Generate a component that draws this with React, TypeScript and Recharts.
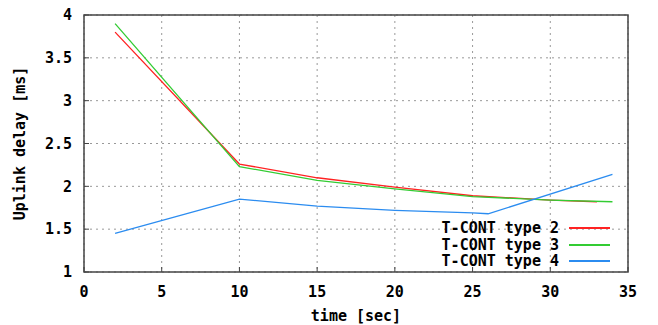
import {
  CartesianGrid,
  Line,
  LineChart,
  ReferenceArea,
  XAxis,
  YAxis,
} from "recharts";

// values
const timeType2 = [2, 10, 15, 20, 25, 30, 33];
const delayType2 = [3.8, 2.26, 2.1, 1.99, 1.89, 1.84, 1.82];

const timeType3 = [2, 10, 15, 20, 25, 30, 34];
const delayType3 = [3.9, 2.23, 2.07, 1.97, 1.88, 1.84, 1.82];

const timeType4 = [2, 10, 15, 20, 25, 26, 34];
const delayType4 = [1.45, 1.85, 1.77, 1.72, 1.69, 1.68, 2.14];

const xTicks = [0, 5, 10, 15, 20, 25, 30, 35];
const yTicks = [1, 1.5, 2, 2.5, 3, 3.5, 4];

const series = [
  { name: "T-CONT type 2", color: "#f22", xs: timeType2, ys: delayType2 },
  { name: "T-CONT type 3", color: "#3c3", xs: timeType3, ys: delayType3 },
  { name: "T-CONT type 4", color: "#2b8cf0", xs: timeType4, ys: delayType4 },
];

const FONT = "'DejaVu Sans Mono', 'Liberation Mono', monospace";

const LegendBox = () => (
  <div
    style={{
      position: "absolute",
      left: 430,
      top: 220,
      fontFamily: FONT,
      fontWeight: "bold",
      fontSize: 15,
      lineHeight: "16.5px",
    }}
  >
    {series.map((s) => (
      <div
        key={s.name}
        style={{ display: "flex", alignItems: "center", height: 16.5 }}
      >
        <span style={{ textAlign: "right", width: 129 }}>{s.name}</span>
        <span
          style={{
            display: "inline-block",
            width: 41,
            height: 0,
            borderTop: `2px solid ${s.color}`,
            marginLeft: 10,
          }}
        />
      </div>
    ))}
  </div>
);

export default function App() {
  const tick = { fill: "#000", fontSize: 15, fontWeight: "bold", fontFamily: FONT };

  return (
    <div style={{ position: "absolute", left: 0, top: 0, background: "#fff" }}>
      <LineChart
        width={658}
        height={325}
        margin={{ top: 15, right: 30, left: 0, bottom: 0 }}
      >
        <CartesianGrid
          stroke="#999"
          strokeDasharray="2 4"
          horizontalValues={yTicks}
          verticalValues={xTicks}
        />
        <XAxis
          type="number"
          dataKey="x"
          domain={[0, 35]}
          ticks={xTicks}
          height={53}
          tick={tick}
          axisLine={false}
          tickLine={{ stroke: "#444" }}
          tickSize={-5}
          tickMargin={19}
          label={{
            value: "time [sec]",
            position: "insideBottom",
            offset: 4,
            style: { ...tick, textAnchor: "middle" },
          }}
        />
        <XAxis
          xAxisId="top"
          orientation="top"
          type="number"
          dataKey="x"
          domain={[0, 35]}
          ticks={xTicks}
          height={0}
          tick={false}
          axisLine={false}
          tickLine={{ stroke: "#444" }}
          tickSize={-5}
        />
        <YAxis
          type="number"
          domain={[1, 4]}
          ticks={yTicks}
          width={84}
          tick={tick}
          axisLine={false}
          tickLine={{ stroke: "#444" }}
          tickSize={-5}
          tickMargin={17}
          label={{
            value: "Uplink delay [ms]",
            angle: -90,
            position: "insideLeft",
            offset: 20,
            style: { ...tick, textAnchor: "middle" },
          }}
        />
        <YAxis
          yAxisId="right"
          orientation="right"
          type="number"
          domain={[1, 4]}
          ticks={yTicks}
          width={0}
          tick={false}
          axisLine={false}
          tickLine={{ stroke: "#444" }}
          tickSize={-5}
        />
        <ReferenceArea
          x1={0}
          x2={35}
          y1={1}
          y2={4}
          fill="none"
          stroke="#444"
          strokeWidth={1.5}
          ifOverflow="visible"
        />
        {series.map((s) => (
          <Line
            key={s.name}
            name={s.name}
            data={s.xs.map((x, i) => ({ x, y: s.ys[i] }))}
            dataKey="y"
            stroke={s.color}
            strokeWidth={1.3}
            dot={false}
            isAnimationActive={false}
          />
        ))}
      </LineChart>
      <LegendBox />
    </div>
  );
}
